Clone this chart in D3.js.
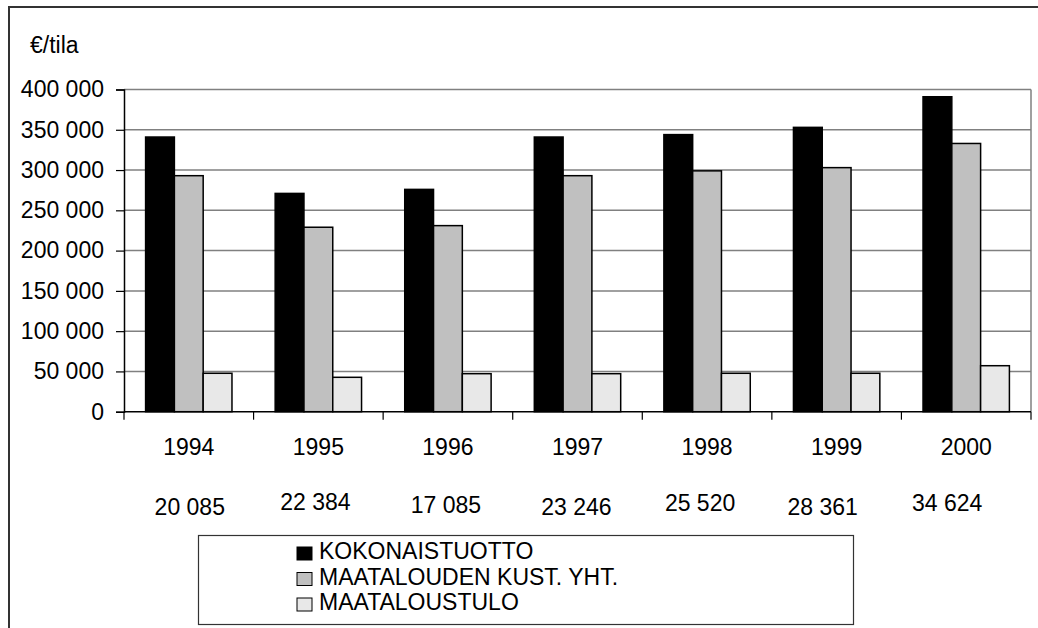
<!DOCTYPE html>
<html>
<head>
<meta charset="utf-8">
<script src="https://cdn.jsdelivr.net/npm/d3@7"></script>
<style>
  body { margin: 0; background: #fff; }
  svg { display: block; font-family: "Liberation Sans", Arial, sans-serif; }
</style>
</head>
<body>
<div id="chart"></div>
<script>
// data
var years = ["1994", "1995", "1996", "1997", "1998", "1999", "2000"];
var kokonaistuotto = [341000, 271000, 276000, 341000, 344000, 353000, 391000];
var kustannukset = [293000, 229000, 231000, 293000, 299000, 303000, 333000];
var maataloustulo = [47700, 42700, 47200, 47200, 47700, 47700, 57100];
var extraRow = ["20 085", "22 384", "17 085", "23 246", "25 520", "28 361", "34 624"];
var seriesNames = ["KOKONAISTUOTTO", "MAATALOUDEN KUST. YHT.", "MAATALOUSTULO"];
var seriesColors = ["#000000", "#c0c0c0", "#e8e8e8"];
var yTicks = [0, 50000, 100000, 150000, 200000, 250000, 300000, 350000, 400000];

// the second label row is hand placed in the original, small nudges (layout only)
var rowNudgeX = [1, -3, -2, -1, -7, -14, -19];
var rowNudgeY = [2, -3, 0, 2, -2, 2, -2];

var width = 1038, height = 628;
var plotLeft = 124, plotRight = 1031, plotTop = 89.5, plotBottom = 411.7;
var fontSize = 23;

var svg = d3.select("#chart").append("svg")
  .attr("width", width)
  .attr("height", height);

// outer frame (only top and left edges show)
svg.append("path")
  .attr("d", "M9,628 L9,7 L1038,7")
  .attr("fill", "none")
  .attr("stroke", "#333")
  .attr("stroke-width", 2);

var x = d3.scaleBand().domain(years).range([plotLeft, plotRight]).padding(0);
var xs = d3.scaleBand().domain([0, 1, 2])
  .range([0, x.bandwidth()])
  .paddingInner(0)
  .paddingOuter(0.75);
var y = d3.scaleLinear().domain([0, 400000]).range([plotBottom, plotTop]);

// gridlines
svg.append("g")
  .selectAll("line")
  .data(yTicks.slice(1))
  .enter().append("line")
    .attr("x1", plotLeft).attr("x2", plotRight)
    .attr("y1", d => y(d)).attr("y2", d => y(d))
    .attr("stroke", "#808080")
    .attr("stroke-width", 1.5);

// right border of plot area
svg.append("line")
  .attr("x1", plotRight).attr("x2", plotRight)
  .attr("y1", plotTop).attr("y2", plotBottom)
  .attr("stroke", "#808080")
  .attr("stroke-width", 1.5);

// bars
var series = [kokonaistuotto, kustannukset, maataloustulo];
series.forEach(function(vals, si) {
  svg.append("g")
    .selectAll("rect")
    .data(vals)
    .enter().append("rect")
      .attr("x", (d, i) => x(years[i]) + xs(si))
      .attr("y", d => y(d))
      .attr("width", xs.bandwidth())
      .attr("height", d => y(0) - y(d))
      .attr("fill", seriesColors[si])
      .attr("stroke", "#000")
      .attr("stroke-width", 1.5);
});

// y axis
var fmt = function(d) { return d3.format(",")(d).replace(/,/g, " "); };
var yAxis = svg.append("g")
  .attr("transform", "translate(" + plotLeft + ",0)")
  .call(d3.axisLeft(y).tickValues(yTicks).tickSize(8).tickPadding(12).tickFormat(fmt));
yAxis.select(".domain").attr("stroke", "#000").attr("stroke-width", 1.5);
yAxis.selectAll(".tick line").attr("stroke", "#000").attr("stroke-width", 1.2);
yAxis.selectAll(".tick text")
  .attr("font-size", fontSize)
  .attr("font-family", "Liberation Sans, Arial, sans-serif")
  .attr("fill", "#000");

// x axis: ticks on category boundaries
svg.append("line")
  .attr("x1", plotLeft).attr("x2", plotRight)
  .attr("y1", plotBottom).attr("y2", plotBottom)
  .attr("stroke", "#000")
  .attr("stroke-width", 1.5);
svg.append("g")
  .selectAll("line")
  .data(years.concat(["end"]))
  .enter().append("line")
    .attr("x1", (d, i) => i < years.length ? x(d) : plotRight)
    .attr("x2", (d, i) => i < years.length ? x(d) : plotRight)
    .attr("y1", plotBottom).attr("y2", plotBottom + 8)
    .attr("stroke", "#000")
    .attr("stroke-width", 1.2);

svg.append("g")
  .selectAll("text")
  .data(years)
  .enter().append("text")
    .attr("x", d => x(d) + x.bandwidth() / 2)
    .attr("y", 455)
    .attr("text-anchor", "middle")
    .attr("font-size", fontSize)
    .text(d => d);

svg.append("g")
  .selectAll("text")
  .data(extraRow)
  .enter().append("text")
    .attr("x", (d, i) => x(years[i]) + x.bandwidth() / 2 + rowNudgeX[i])
    .attr("y", (d, i) => 513 + rowNudgeY[i])
    .attr("text-anchor", "middle")
    .attr("font-size", fontSize)
    .text(d => d);

// unit label
svg.append("text")
  .attr("x", 30)
  .attr("y", 53)
  .attr("font-size", fontSize)
  .text("€/tila");

// legend
var legend = svg.append("g");
legend.append("rect")
  .attr("x", 198.5).attr("y", 535.5)
  .attr("width", 655).attr("height", 89)
  .attr("fill", "#fff")
  .attr("stroke", "#333")
  .attr("stroke-width", 1.2);
var items = legend.selectAll("g.item")
  .data(seriesNames)
  .enter().append("g")
    .attr("class", "item")
    .attr("transform", (d, i) => "translate(0," + (559 + i * 25.5) + ")");
items.append("rect")
  .attr("x", 297).attr("y", -12)
  .attr("width", 15).attr("height", 13)
  .attr("fill", (d, i) => seriesColors[i])
  .attr("stroke", "#000")
  .attr("stroke-width", 1);
items.append("text")
  .attr("x", 319)
  .attr("y", 0)
  .attr("font-size", fontSize)
  .text(d => d);
</script>
</body>
</html>
